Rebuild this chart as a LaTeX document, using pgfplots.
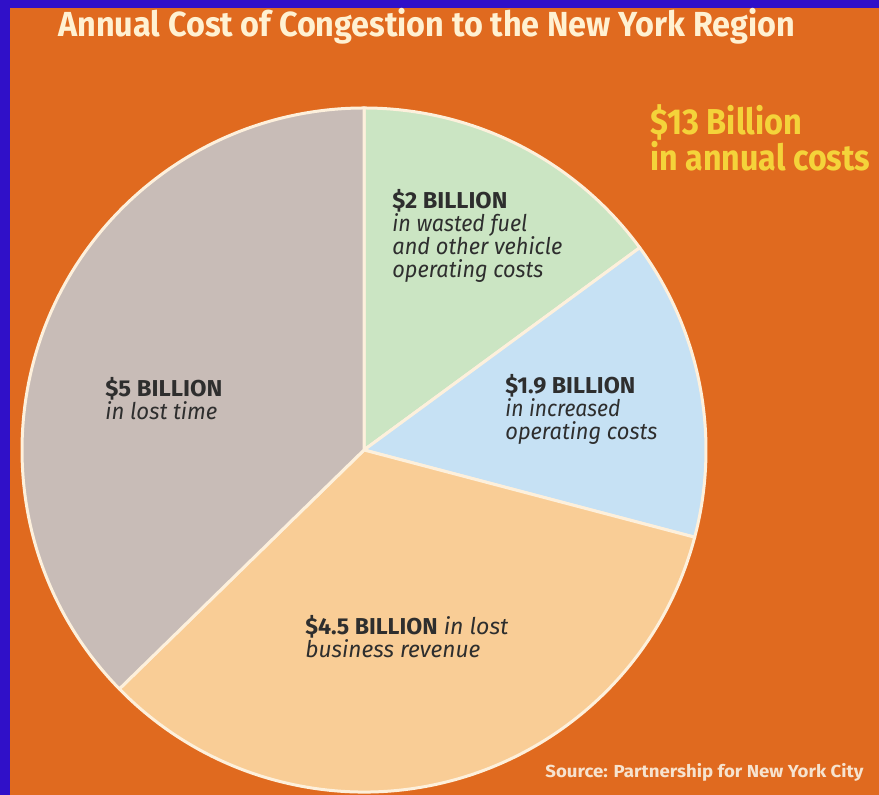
\documentclass[border=0pt]{standalone}
\usepackage{fontspec}
\setmainfont{Fira Sans}
\usepackage{graphicx}
\usepackage{pgfplots}
\usepackage{pgfplotstable}
\pgfplotsset{compat=1.18}

\definecolor{cOrange}{HTML}{E06A1F}
\definecolor{cBorder}{HTML}{3010C8}
\definecolor{cGray}{HTML}{C8BCB7}
\definecolor{cGreen}{HTML}{CBE5C3}
\definecolor{cBlue}{HTML}{C6E1F4}
\definecolor{cTan}{HTML}{F9CD96}
\definecolor{cRim}{HTML}{FDF0DC}
\definecolor{cTitle}{HTML}{FFF1D2}
\definecolor{cYellow}{HTML}{F4D33A}
\definecolor{cLabel}{HTML}{2E2E2E}
\definecolor{cSource}{HTML}{F6E3CF}

\newcommand\fitx[2]{\setbox0=\hbox{#2}\pgfmathsetmacro\fitratio{(#1)/(\the\wd0)}\scalebox{\fitratio}[1]{\box0}}

\begin{document}
\begin{tikzpicture}
\pgfplotstableread{
label value
fuel 2
ops 1.9
rev 4.5
time 5
}\costdata
\pgfplotstablegetelem{0}{value}\of\costdata\edef\vA{\pgfplotsretval}
\pgfplotstablegetelem{1}{value}\of\costdata\edef\vB{\pgfplotsretval}
\pgfplotstablegetelem{2}{value}\of\costdata\edef\vC{\pgfplotsretval}
\pgfplotstablegetelem{3}{value}\of\costdata\edef\vD{\pgfplotsretval}
\pgfmathsetmacro\tot{\vA+\vB+\vC+\vD}
\pgfmathsetmacro\aA{90-360*\vA/\tot}
\pgfmathsetmacro\aB{\aA-360*\vB/\tot}
\pgfmathsetmacro\aC{\aB-360*\vC/\tot}
\pgfmathsetmacro\aD{\aC-360*\vD/\tot}
\begin{axis}[
  width=439.5pt, height=397.5pt, scale only axis,
  xmin=0, xmax=879, ymin=0, ymax=795,
  hide axis, clip=false,
]
\coordinate (bl) at (axis cs:0,0);
\coordinate (tr) at (axis cs:879,795);
% background
\fill[cBorder] (axis cs:0,0) rectangle (axis cs:879,795);
\fill[cOrange] (axis cs:10,0) rectangle (axis cs:879,787);
% pie sectors
\filldraw[fill=cGreen, draw=cRim, line width=1.5pt, line join=round] (axis cs:364,345) -- ++(90:171pt) arc[start angle=90, end angle=\aA, radius=171pt] -- cycle;
\filldraw[fill=cBlue, draw=cRim, line width=1.5pt, line join=round] (axis cs:364,345) -- ++(\aA:171pt) arc[start angle=\aA, end angle=\aB, radius=171pt] -- cycle;
\filldraw[fill=cTan, draw=cRim, line width=1.5pt, line join=round] (axis cs:364,345) -- ++(\aB:171pt) arc[start angle=\aB, end angle=\aC, radius=171pt] -- cycle;
\filldraw[fill=cGray, draw=cRim, line width=1.5pt, line join=round] (axis cs:364,345) -- ++(\aC:171pt) arc[start angle=\aC, end angle=\aD, radius=171pt] -- cycle;
% title
\node[anchor=base west, inner sep=0, text=cTitle, font=\bfseries\fontsize{17.4}{20}\selectfont] at (axis cs:58,758) {\fitx{368.5pt}{Annual Cost of Congestion to the New York Region}};
% total
\node[anchor=base west, inner sep=0, text=cYellow, font=\bfseries\fontsize{18}{20}\selectfont] at (axis cs:650,660) {\fitx{76pt}{\$13 Billion}};
\node[anchor=base west, inner sep=0, text=cYellow, font=\bfseries\fontsize{18}{20}\selectfont] at (axis cs:650,624) {\fitx{110pt}{in annual costs}};
% green label
\node[anchor=base west, inner sep=0, text=cLabel, font=\bfseries\fontsize{11.5}{13}\selectfont] at (axis cs:392,586) {\fitx{57.5pt}{\$2 BILLION}};
\node[anchor=base west, inner sep=0, text=cLabel, font=\itshape\fontsize{11.5}{13}\selectfont] at (axis cs:392,563) {\fitx{67.5pt}{in wasted fuel}};
\node[anchor=base west, inner sep=0, text=cLabel, font=\itshape\fontsize{11.5}{13}\selectfont] at (axis cs:392,540) {\fitx{85pt}{and other vehicle}};
\node[anchor=base west, inner sep=0, text=cLabel, font=\itshape\fontsize{11.5}{13}\selectfont] at (axis cs:392,517) {\fitx{75.5pt}{operating costs}};
% blue label
\node[anchor=base west, inner sep=0, text=cLabel, font=\bfseries\fontsize{11.5}{13}\selectfont] at (axis cs:505,401) {\fitx{65pt}{\$1.9 BILLION}};
\node[anchor=base west, inner sep=0, text=cLabel, font=\itshape\fontsize{11.5}{13}\selectfont] at (axis cs:505,378) {\fitx{57.5pt}{in increased}};
\node[anchor=base west, inner sep=0, text=cLabel, font=\itshape\fontsize{11.5}{13}\selectfont] at (axis cs:505,355) {\fitx{76pt}{operating costs}};
% gray label
\node[anchor=base west, inner sep=0, text=cLabel, font=\bfseries\fontsize{11.5}{13}\selectfont] at (axis cs:105,398) {\fitx{58.5pt}{\$5 BILLION}};
\node[anchor=base west, inner sep=0, text=cLabel, font=\itshape\fontsize{11.5}{13}\selectfont] at (axis cs:105,375) {\fitx{56pt}{in lost time}};
% tan label
\node[anchor=base west, inner sep=0, text=cLabel, font=\fontsize{11.5}{13}\selectfont] at (axis cs:305,160) {\fitx{101.5pt}{\textbf{\$4.5 BILLION} \textit{in lost}}};
\node[anchor=base west, inner sep=0, text=cLabel, font=\itshape\fontsize{11.5}{13}\selectfont] at (axis cs:305,137) {\fitx{87.5pt}{business revenue}};
% source
\node[anchor=base west, inner sep=0, text=cSource, font=\bfseries\fontsize{8.7}{10}\selectfont] at (axis cs:545,17) {\fitx{159pt}{Source: Partnership for New York City}};
\end{axis}
\pgfresetboundingbox
\useasboundingbox (bl) rectangle (tr);
\end{tikzpicture}
\end{document}
